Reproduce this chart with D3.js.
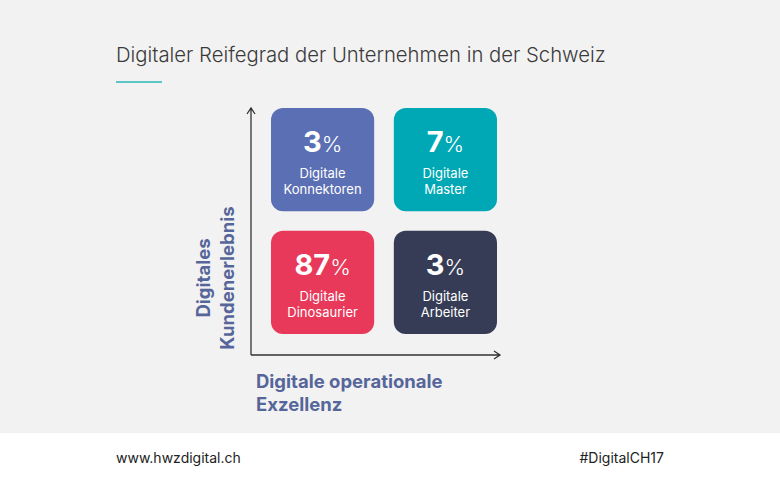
<!DOCTYPE html>
<html><head><meta charset="utf-8">
<script src="https://cdn.jsdelivr.net/npm/d3@7"></script>
<style>body{margin:0;background:#fff}svg{display:block;font-family:Inter,"Noto Sans",sans-serif}</style>
</head><body><svg id="c" width="780" height="480"></svg>
<script>
const cols = ["low","high"];      // Digitale operationale Exzellenz
const rows = ["high","low"];      // Digitales Kundenerlebnis
const values = [3, 7, 87, 3];
const labels = [["Digitale","Konnektoren"],["Digitale","Master"],["Digitale","Dinosaurier"],["Digitale","Arbeiter"]];
const quadCol = ["low","high","low","high"];
const quadRow = ["high","high","low","low"];
const colors = ["#5b6fb4","#00a8b5","#e8395a","#363c55"];

const svg = d3.select("#c");
svg.append("rect").attr("width",780).attr("height",433).attr("fill","#f2f2f2");
svg.append("text").attr("x",116).attr("y",62).attr("font-size",20.3).attr("font-weight",300).attr("fill","#3a3a3a").text("Digitaler Reifegrad der Unternehmen in der Schweiz");
svg.append("rect").attr("x",116).attr("y",81).attr("width",46).attr("height",2).attr("fill","#5cc6c4");

const x = d3.scaleBand().domain(cols).range([271,497]).paddingInner(0.16);
const y = d3.scaleBand().domain(rows).range([108,334]).paddingInner(0.16);

const g = svg.selectAll("g.q").data(values).join("g").attr("class","q");
g.append("rect").attr("x",(d,i)=>x(quadCol[i])).attr("y",(d,i)=>y(quadRow[i]))
 .attr("width",x.bandwidth()).attr("height",y.bandwidth()).attr("rx",12).attr("fill",(d,i)=>colors[i]);
const t = g.append("text").attr("x",(d,i)=>x(quadCol[i])+x.bandwidth()/2).attr("y",(d,i)=>y(quadRow[i])+44)
 .attr("text-anchor","middle").attr("fill","#fff");
t.append("tspan").attr("font-size",29).attr("font-weight",700).text(d=>d);
t.append("tspan").attr("font-size",22).attr("font-weight",300).text("%");
[0,1].forEach(k=>{
  g.append("text").attr("x",(d,i)=>x(quadCol[i])+x.bandwidth()/2).attr("y",(d,i)=>y(quadRow[i])+70+k*16)
   .attr("text-anchor","middle").attr("fill","#fff").attr("font-size",13).text((d,i)=>labels[i][k]);
});

// axes
const ax = svg.append("g").attr("stroke","#333").attr("stroke-width",1.3).attr("fill","none");
ax.append("path").attr("d","M251,355V108M247,114L251,108L255,114");
ax.append("path").attr("d","M251,355H500M494,351L500,355L494,359");

const lc = "#56669a";
svg.append("text").attr("transform","translate(210,278) rotate(-90)").attr("text-anchor","middle").attr("font-size",18.5).attr("font-weight",700).attr("fill",lc).text("Digitales");
svg.append("text").attr("transform","translate(234,278) rotate(-90)").attr("text-anchor","middle").attr("font-size",18.5).attr("font-weight",700).attr("fill",lc).text("Kundenerlebnis");
svg.append("text").attr("x",256).attr("y",388).attr("font-size",18.5).attr("font-weight",700).attr("fill",lc).text("Digitale operationale");
svg.append("text").attr("x",256).attr("y",411).attr("font-size",18.5).attr("font-weight",700).attr("fill",lc).text("Exzellenz");

svg.append("text").attr("x",116).attr("y",463).attr("font-size",14).attr("fill","#222").text("www.hwzdigital.ch");
svg.append("text").attr("x",664).attr("y",463).attr("text-anchor","end").attr("font-size",14).attr("fill","#222").text("#DigitalCH17");
</script></body></html>
